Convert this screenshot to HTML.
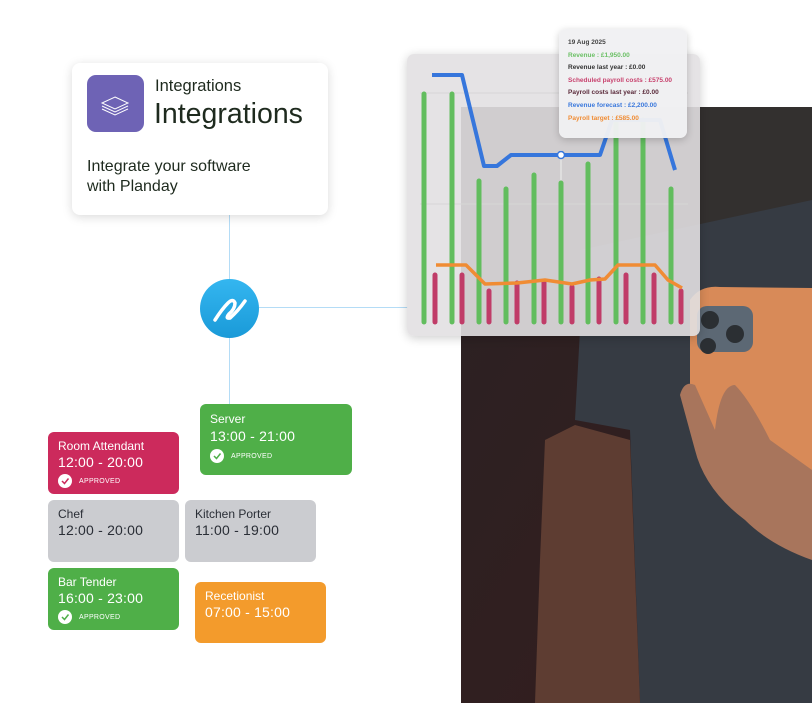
<!DOCTYPE html>
<html><head><meta charset="utf-8"><style>
*{margin:0;padding:0;box-sizing:border-box}
body{width:812px;height:726px;background:#fff;position:relative;overflow:hidden;font-family:"Liberation Sans",sans-serif}
.abs{position:absolute}
.card{position:absolute;border-radius:6px;color:#fff;padding:0 10px}
.card .t{font-size:12px;margin-top:7px}
.card .h{font-size:14px;margin-top:2px;letter-spacing:.2px}
.ap{display:flex;align-items:center;font-size:7px;letter-spacing:.3px;margin-top:5px}
.ck{width:14px;height:14px;border-radius:50%;background:#fff;margin-right:7px;display:flex;align-items:center;justify-content:center}
</style></head><body>
<!-- photo -->
<svg class="abs" style="left:461px;top:107px" width="351" height="596" viewBox="461 107 351 596">
<defs><linearGradient id="bg" x1="0" y1="0" x2="1" y2="1"><stop offset="0" stop-color="#2a2224"/><stop offset="1" stop-color="#361c1c"/></linearGradient></defs>
<rect x="461" y="107" width="351" height="596" fill="url(#bg)"/>
<rect x="700" y="107" width="112" height="120" fill="#33302f"/>
<path d="M580 250 L812 200 L812 703 L640 703 L630 430 L575 420 L580 330Z" fill="#363b43"/>
<path d="M545 440 L575 425 L630 440 L640 703 L535 703 L540 560Z" fill="#5e3d32"/>
<path d="M690 300 Q700 285 720 287 L812 288 L812 470 L735 465 Q700 460 690 420Z" fill="#d88a58"/>
<rect x="697" y="306" width="56" height="46" rx="10" fill="#5c6874"/>
<circle cx="710" cy="320" r="9" fill="#2b2f33"/><circle cx="735" cy="334" r="9" fill="#2b2f33"/><circle cx="708" cy="346" r="8" fill="#2b2f33"/>
<path d="M680 395 Q684 380 695 385 L715 430 Q720 385 735 385 Q750 400 770 440 L812 470 L812 560 Q770 545 745 520 Q705 490 695 450Z" fill="#a8755c"/>
</svg>
<!-- connectors -->
<div class="abs" style="left:229px;top:215px;width:1px;height:190px;background:#b4dcf6"></div>
<div class="abs" style="left:258px;top:307px;width:150px;height:1px;background:#b4dcf6"></div>
<div class="abs" style="left:200px;top:279px;width:59px;height:59px;border-radius:50%;background:linear-gradient(#34b6f0,#1a9ad8)">
<svg width="59" height="59"><path d="M15 41 Q22 30 28 24 Q33 19 35 24 Q35 30 29 35 Q25 40 30 39 Q38 32 45 22" stroke="#fff" stroke-width="3.5" fill="none" stroke-linecap="round"/></svg></div>
<!-- integrations card -->
<div class="abs" style="left:72px;top:63px;width:256px;height:152px;background:#fff;border-radius:8px;box-shadow:0 2px 10px rgba(0,0,0,.15)">
<div class="abs" style="left:15px;top:12px;width:57px;height:57px;border-radius:9px;background:#6e63b5">
<svg width="57" height="57"><g fill="none" stroke="#fff" stroke-width="1"><path d="M28 22 L41 28 L28 34 L15 28Z"/><path d="M15 31 L28 37 L41 31"/><path d="M15 34 L28 40 L41 34"/></g></svg></div>
<div class="abs" style="left:83px;top:14px;font-size:16.5px;color:#1e2a1e">Integrations</div>
<div class="abs" style="left:82px;top:35px;font-size:28.5px;color:#1e2a1e">Integrations</div>
<div class="abs" style="left:15px;top:94px;font-size:16px;line-height:20px;color:#1e2a1e">Integrate your software<br>with Planday</div>
</div>
<!-- chart -->
<div class="abs" style="left:407px;top:54px;width:293px;height:282px;border-radius:7px;background:rgba(226,224,226,.9);box-shadow:0 2px 10px rgba(0,0,0,.2)"></div>
<svg class="abs" style="left:0;top:0" width="812" height="726">
<line x1="420" y1="93" x2="688" y2="93" stroke="#d6d6d6"/><line x1="420" y1="204" x2="688" y2="204" stroke="#d6d6d6"/>
<line x1="561" y1="150" x2="561" y2="323" stroke="#eee"/>
<g stroke-linecap="round" stroke-width="5">
<g stroke="#62bd5e"><line x1="424" y1="94" x2="424" y2="322"/><line x1="452" y1="94" x2="452" y2="322"/><line x1="479" y1="181" x2="479" y2="322"/><line x1="506" y1="189" x2="506" y2="322"/><line x1="534" y1="175" x2="534" y2="322"/><line x1="561" y1="183" x2="561" y2="322"/><line x1="588" y1="164" x2="588" y2="322"/><line x1="616" y1="120" x2="616" y2="322"/><line x1="643" y1="120" x2="643" y2="322"/><line x1="671" y1="189" x2="671" y2="322"/></g>
<g stroke="#c03c68"><line x1="435" y1="275" x2="435" y2="322"/><line x1="462" y1="275" x2="462" y2="322"/><line x1="489" y1="291" x2="489" y2="322"/><line x1="517" y1="283" x2="517" y2="322"/><line x1="544" y1="281" x2="544" y2="322"/><line x1="572" y1="287" x2="572" y2="322"/><line x1="599" y1="279" x2="599" y2="322"/><line x1="626" y1="275" x2="626" y2="322"/><line x1="654" y1="275" x2="654" y2="322"/><line x1="681" y1="291" x2="681" y2="322"/></g>
</g>
<polyline points="432,75 462,75 484,166 497,166 511,155 600,155 612,120 660,120 675,170" fill="none" stroke="#3676dc" stroke-width="4" stroke-linejoin="round"/>
<polyline points="436,265 466,265 485,284 517,283 545,280 572,284 590,280 605,279 618,265 655,265 668,280 682,288" fill="none" stroke="#f08c34" stroke-width="3.5" stroke-linejoin="round"/>
<circle cx="561" cy="155" r="3.5" fill="#fff" stroke="#3676dc" stroke-width="1.5"/>
</svg>
<div class="abs" style="left:559px;top:29px;width:128px;height:109px;border-radius:7px;background:rgba(240,240,242,.96);box-shadow:0 2px 8px rgba(0,0,0,.2);font-size:6.5px;line-height:12.6px;padding:8px 9px;font-weight:bold">
<div style="color:#444">19 Aug 2025</div>
<div style="color:#6cc066">Revenue : £1,950.00</div>
<div style="color:#333">Revenue last year : £0.00</div>
<div style="color:#c8426e">Scheduled payroll costs : £575.00</div>
<div style="color:#5a2a3a">Payroll costs last year : £0.00</div>
<div style="color:#3a78dc">Revenue forecast : £2,200.00</div>
<div style="color:#f08c34">Payroll target : £585.00</div>
</div>
<!-- shift cards -->
<div class="card" style="left:200px;top:404px;width:152px;height:71px;background:#4faf48">
<div class="t" style="margin-top:8px">Server</div><div class="h">13:00 - 21:00</div>
<div class="ap"><div class="ck"><svg width="10" height="10"><path d="M2 5 L4.5 7.5 L8.5 2.5" stroke="#4faf48" stroke-width="1.5" fill="none"/></svg></div>APPROVED</div></div>
<div class="card" style="left:48px;top:432px;width:131px;height:62px;background:#cc2a5c">
<div class="t">Room Attendant</div><div class="h" style="margin-top:1px">12:00 - 20:00</div>
<div class="ap" style="margin-top:4px"><div class="ck"><svg width="10" height="10"><path d="M2 5 L4.5 7.5 L8.5 2.5" stroke="#cc2a5c" stroke-width="1.5" fill="none"/></svg></div>APPROVED</div></div>
<div class="card" style="left:48px;top:500px;width:131px;height:62px;background:#cbccd0;color:#2a2e36">
<div class="t">Chef</div><div class="h" style="margin-top:1px">12:00 - 20:00</div></div>
<div class="card" style="left:185px;top:500px;width:131px;height:62px;background:#cbccd0;color:#2a2e36">
<div class="t">Kitchen Porter</div><div class="h" style="margin-top:1px">11:00 - 19:00</div></div>
<div class="card" style="left:48px;top:568px;width:131px;height:62px;background:#4faf48">
<div class="t">Bar Tender</div><div class="h" style="margin-top:1px">16:00 - 23:00</div>
<div class="ap" style="margin-top:4px"><div class="ck"><svg width="10" height="10"><path d="M2 5 L4.5 7.5 L8.5 2.5" stroke="#4faf48" stroke-width="1.5" fill="none"/></svg></div>APPROVED</div></div>
<div class="card" style="left:195px;top:582px;width:131px;height:61px;background:#f39b2c">
<div class="t">Recetionist</div><div class="h" style="margin-top:1px">07:00 - 15:00</div></div>
</body></html>
